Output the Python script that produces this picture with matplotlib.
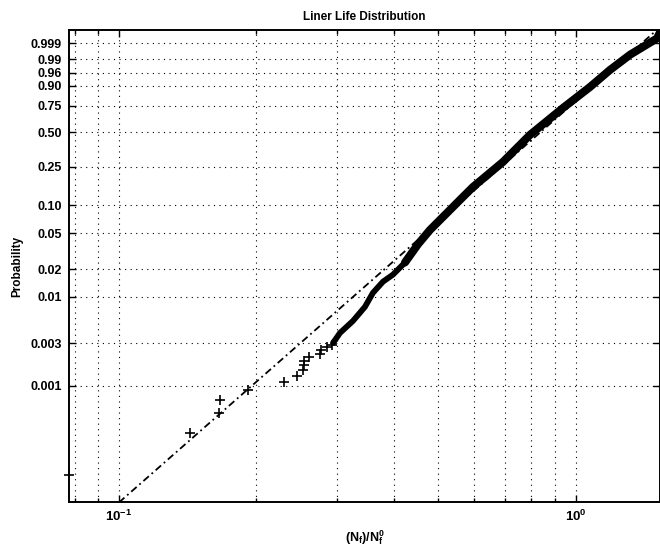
"""Weibull probability plot of liner life (recreated)."""
import matplotlib
matplotlib.use("Agg")
import matplotlib.pyplot as plt
import numpy as np
from matplotlib.ticker import FixedLocator, NullLocator, NullFormatter

plt.rcParams["font.family"] = ["Liberation Sans", "DejaVu Sans"]
plt.rcParams["mathtext.default"] = "regular"

# sparse lower-tail observations (+ markers)
TAIL_X = [0.0777, 0.1428, 0.1658, 0.1666, 0.1919, 0.2298, 0.2449, 0.2532,
          0.2541, 0.2545, 0.2606, 0.2754, 0.2768, 0.2850, 0.2922]
TAIL_P = [1.0e-4, 3.0e-4, 5.0e-4, 7.0e-4, 9.0e-4, 1.1e-3, 1.3e-3, 1.5e-3,
          1.7e-3, 1.9e-3, 2.1e-3, 2.3e-3, 2.5e-3, 2.7e-3, 2.9e-3]

# dense part of the sample, read along the centre of the black band
BAND_X = [0.2942, 0.3047, 0.3254, 0.3456, 0.3599, 0.3785, 0.3981, 0.4229,
          0.4516, 0.4797, 0.5200, 0.5579, 0.5958, 0.6931, 0.7943, 0.9380,
          1.0748, 1.189, 1.316, 1.508, 1.530]
BAND_P = [0.00303, 0.00392, 0.00535, 0.00768, 0.01102, 0.01464, 0.01754,
          0.02389, 0.0380, 0.05445, 0.08112, 0.1143, 0.1560, 0.2765, 0.4782,
          0.7280, 0.8932, 0.9690, 0.9942, 0.99961, 0.9999]

# fitted Weibull reference line (straight on these axes), two end points
FIT_X = [0.1, 1.53]
FIT_P = [4.96e-5, 0.9999714]

YTICKS = [0.001, 0.003, 0.01, 0.02, 0.05, 0.10, 0.25, 0.50, 0.75, 0.90,
          0.96, 0.99, 0.999]
YTICK_LABELS = ["0.001", "0.003", "0.01", "0.02", "0.05", "0.10", "0.25",
                "0.50", "0.75", "0.90", "0.96", "0.99", "0.999"]
XTICKS = [0.1, 1.0]
XTICK_LABELS = [r"$10^{-1}$", r"$10^{0}$"]
XGRID = [0.08, 0.09, 0.1, 0.2, 0.3, 0.4, 0.5, 0.6, 0.7, 0.8, 0.9, 1.0]


def wbl_fwd(p):
    p = np.clip(np.asarray(p, dtype=float), 1e-12, 1 - 1e-12)
    return np.log(-np.log1p(-p))


def wbl_inv(f):
    return -np.expm1(-np.exp(np.asarray(f, dtype=float)))


fig = plt.figure(figsize=(6.6, 5.46), dpi=100)
ax = fig.add_axes([0.1045, 0.0806, 0.8955, 0.8645])
ax.set_xscale("log")
ax.set_yscale("function", functions=(wbl_fwd, wbl_inv))

grid_kw = dict(color="black", linewidth=0.8, linestyle=(0, (1, 4)), zorder=0)
for gx in XGRID:
    ax.axvline(gx, **grid_kw)
for gy in YTICKS:
    ax.axhline(gy, **grid_kw)

ax.plot(FIT_X, FIT_P, color="black", linewidth=1.3,
        linestyle=(0, (4, 2, 1, 2)), zorder=2)
# band is thinner where the sample is still sparse
ax.plot(BAND_X[:8], BAND_P[:8], color="black", linewidth=4.2,
        solid_capstyle="round", solid_joinstyle="round", zorder=3)
ax.plot(BAND_X[7:], BAND_P[7:], color="black", linewidth=5.8,
        solid_capstyle="round", solid_joinstyle="round", zorder=3)
ax.plot(TAIL_X, TAIL_P, linestyle="none", marker="+", markersize=7,
        markeredgewidth=1.2, color="black", zorder=3, clip_on=False)

ax.set_xlim(0.0777, 1.53)
ax.set_ylim(wbl_inv(-9.9), wbl_inv(2.276))

ax.yaxis.set_major_locator(FixedLocator(YTICKS))
ax.yaxis.set_minor_locator(NullLocator())
ax.set_yticklabels(YTICK_LABELS, fontsize=9, fontweight="bold")
ax.xaxis.set_major_locator(FixedLocator(XTICKS))
ax.xaxis.set_minor_locator(FixedLocator([g for g in XGRID if g not in XTICKS]))
ax.xaxis.set_minor_formatter(NullFormatter())
ax.set_xticklabels(XTICK_LABELS, fontsize=9.5, fontweight="bold")

ax.tick_params(which="both", direction="in", top=True, right=True,
               width=1.0, color="black")
ax.tick_params(which="major", length=5, pad=5)
ax.tick_params(which="minor", length=3)
for s in ax.spines.values():
    s.set_linewidth(1.4)

ax.set_title("Liner Life Distribution", fontsize=8.5, fontweight="bold", pad=7)
ax.set_ylabel("Probability", fontsize=8.5, fontweight="bold")
ax.yaxis.set_label_coords(-0.078, 0.5)
ax.set_xlabel(r"(N$_f$)/N$_f^0$", fontsize=9, fontweight="bold")
ax.xaxis.set_label_coords(0.5, -0.055)

fig.savefig("out.png", dpi=100)
